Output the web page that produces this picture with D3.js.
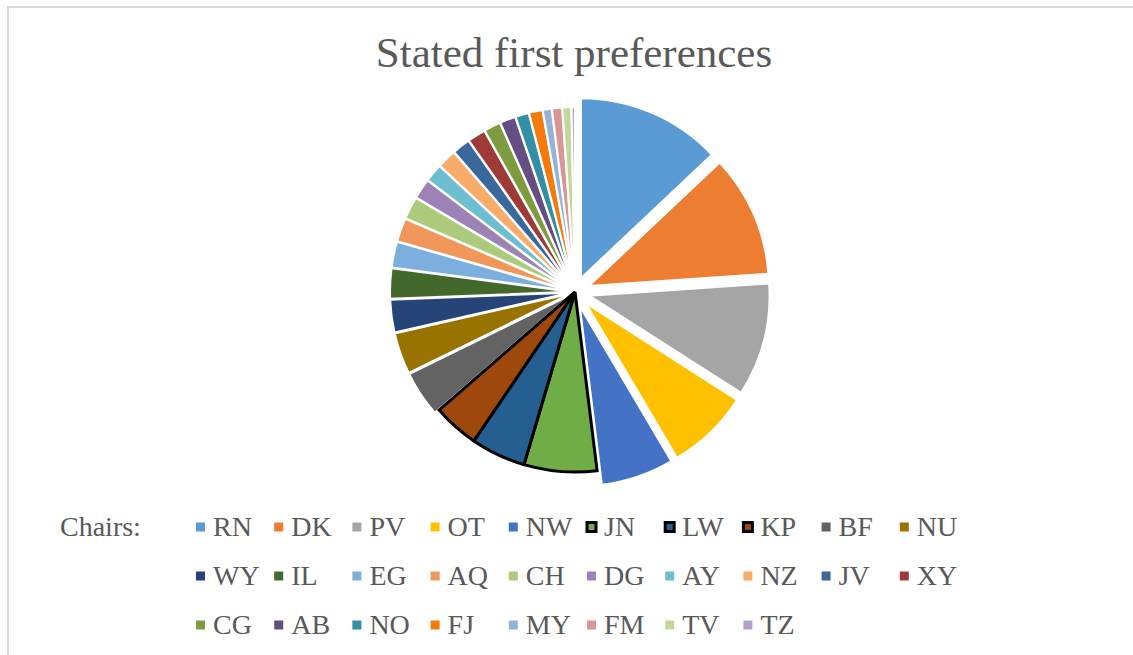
<!DOCTYPE html>
<html>
<head>
<meta charset="utf-8">
<script src="https://cdn.jsdelivr.net/npm/d3@7"></script>
</head>
<body style="margin:0">
<div id="chart"></div>
<script>
const chairs = ["RN", "DK", "PV", "OT", "NW", "JN", "LW", "KP", "BF", "NU",
                "WY", "IL", "EG", "AQ", "CH", "DG", "AY", "NZ", "JV", "XY",
                "CG", "AB", "NO", "FJ", "MY", "FM", "TV", "TZ"];
const firstPrefs = [12.9, 10.9, 10.1, 7.4, 6.5, 6.5, 4.9, 4.1, 4.1, 3.7,
                    2.9, 2.7, 2.3, 2.1, 2.0, 1.8, 1.6, 1.7, 1.6, 1.6,
                    1.5, 1.4, 1.2, 1.2, 0.8, 0.9, 0.8, 0.3];
const highlighted = ["JN", "LW", "KP"];
const pulledOut = ["RN", "DK", "PV", "OT", "NW"];
const palette = ["#5B9BD5", "#ED7D31", "#A5A5A5", "#FFC000", "#4472C4", "#70AD47", "#255E91", "#9E480E", "#636363", "#997300",
                 "#264478", "#43682B", "#7CAFDD", "#F1975A", "#ABCA7C", "#9D82B6", "#6CBED0", "#F9AC6A", "#3A679C", "#9E3B39",
                 "#7E9C3F", "#654E83", "#338FA6", "#F37A0B", "#95B3D7", "#DA9694", "#C4D79B", "#B3A2C7"];

const width = 1133, height = 655;
const svg = d3.select("#chart").append("svg")
    .attr("width", width)
    .attr("height", height)
    .attr("font-family", "Liberation Serif, serif");

// chart border (only top and left visible in frame)
svg.append("path")
    .attr("d", `M8,${height + 5} V7 H${width + 5}`)
    .attr("fill", "none")
    .attr("stroke", "#d9d9d9")
    .attr("stroke-width", 2);

svg.append("text")
    .attr("x", 574)
    .attr("y", 67)
    .attr("text-anchor", "middle")
    .attr("font-size", 43)
    .attr("fill", "#595959")
    .style("font-family", "Liberation Serif")
    .text("Stated first preferences");

const data = chairs.map((c, i) => ({ name: c, value: firstPrefs[i] }));
const color = d3.scaleOrdinal().domain(chairs).range(palette);

const cx = 575, cy = 292, radius = 180;
const pie = d3.pie().sort(null).value(d => d.value);
const arc = d3.arc().innerRadius(0).outerRadius(radius);
const arcs = pie(data);

const pieG = svg.append("g").attr("transform", `translate(${cx}, ${cy})`);

const isHi = d => highlighted.includes(d.data.name);
const offset = d => isHi(d) ? 0 : (pulledOut.includes(d.data.name) ? 15 : 5);

pieG.selectAll(".slice")
    .data(arcs.filter(d => !isHi(d)).concat(arcs.filter(isHi)))
    .join("path")
    .attr("class", "slice")
    .attr("d", arc)
    .attr("fill", d => color(d.data.name))
    .attr("stroke", d => isHi(d) ? "#000" : "#fff")
    .attr("stroke-width", d => isHi(d) ? 3 : 2)
    .attr("transform", d => {
        const mid = (d.startAngle + d.endAngle) / 2;
        const k = offset(d);
        return `translate(${k * Math.sin(mid)}, ${-k * Math.cos(mid)})`;
    });

// legend
const legendX = 196, colStep = 78.2, rowStep = 49, legendY = 527, perRow = 10;

svg.append("text")
    .attr("x", 60)
    .attr("y", legendY + 9)
    .attr("font-size", 28)
    .attr("fill", "#595959")
    .style("font-family", "Liberation Serif")
    .text("Chairs:");

const legend = svg.selectAll(".legend-item")
    .data(chairs)
    .join("g")
    .attr("class", "legend-item")
    .attr("transform", (d, i) => `translate(${legendX + (i % perRow) * colStep}, ${legendY + Math.floor(i / perRow) * rowStep})`);

legend.append("rect")
    .attr("x", 0)
    .attr("y", -4.5)
    .attr("width", 9)
    .attr("height", 9)
    .attr("fill", d => color(d))
    .attr("stroke", d => highlighted.includes(d) ? "#000" : "none")
    .attr("stroke-width", 3);

legend.append("text")
    .attr("x", 17)
    .attr("y", 9)
    .attr("font-size", 28)
    .attr("fill", "#595959")
    .style("font-family", "Liberation Serif")
    .text(d => d);
</script>
</body>
</html>
